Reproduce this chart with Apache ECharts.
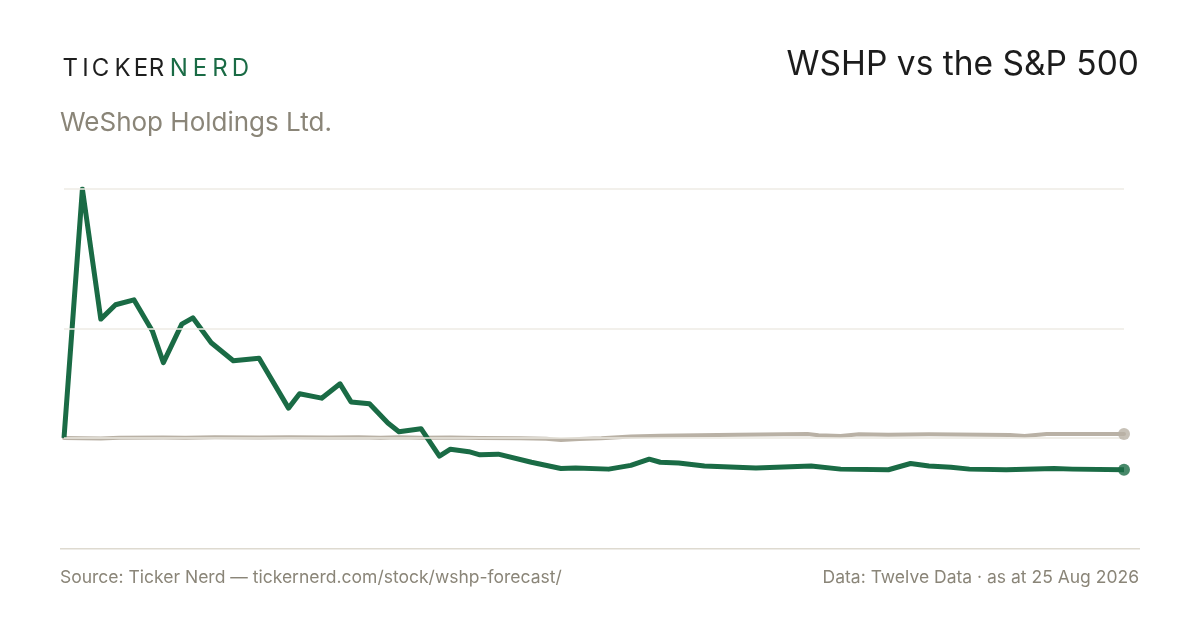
<!DOCTYPE html>
<html>
<head>
<meta charset="utf-8">
<script src="https://cdn.jsdelivr.net/npm/echarts@6/dist/echarts.min.js"></script>
<style>
  html, body { margin: 0; padding: 0; background: #fff; }
  #main { width: 1200px; height: 630px; }
</style>
</head>
<body>
<div id="main"></div>
<script>
// trading days since start, % return vs start
const wshpDays = [0, 5, 10, 14, 19, 24, 27, 32, 35, 40, 46, 53, 61, 64, 70, 75, 78, 83, 88, 91, 97,
  102, 105, 110, 113, 118, 127, 135, 139, 148, 154, 159, 162, 167, 174, 188, 203, 211, 224, 230,
  235, 241, 246, 256, 269, 274, 288]
const wshpReturn = [0, 400, 191, 214, 222, 172, 121, 183, 193, 153, 124, 128, 48, 71, 64, 87, 58, 55, 24, 10, 15,
  -29, -18, -22, -27, -26, -39, -49, -48, -50, -44, -34, -39, -40, -45, -48, -45, -50, -51, -41,
  -45, -47, -50, -51, -49, -50, -51]

const spxDays = [0, 10, 15, 27, 33, 41, 53, 61, 72, 80, 86, 91, 97, 105, 113, 124, 131, 135, 140, 146,
  154, 162, 167, 183, 202, 205, 211, 216, 224, 235, 257, 261, 267, 288]
const spxReturn = [0, -0.8, 0.5, 0.8, 0.3, 1.1, 0.8, 1.3, 1.0, 1.3, 0.6, 1.1, 0.3, 0.8, 0, -0.5, -1.3, -3.2, -1.6, -0.5,
  2.4, 3.5, 4.0, 5.3, 6.4, 4.3, 3.2, 6.1, 5.3, 5.9, 4.8, 3.2, 6.4, 6.4]

const gridValues = [175, 400]

const green = '#1a6b45'
const sand = '#b9b1a5'
const muted = '#8a8578'
const font = 'Inter, "Noto Sans", sans-serif'

const wshpData = wshpDays.map((d, i) => [d, wshpReturn[i]])
const spxData = spxDays.map((d, i) => [d, spxReturn[i]])

// wordmark is letter-spaced, so each letter is placed on its own centre
const logoLetters = ['T', 'I', 'C', 'K', 'E', 'R', 'N', 'E', 'R', 'D']
const logoCentres = [70.3, 85.5, 100.5, 122.5, 141, 156.5, 178.7, 200, 220, 240.5]

const chart = echarts.init(document.getElementById('main'), null, { renderer: 'canvas' })

const graphics = logoLetters.map((ch, i) => ({
  type: 'text', x: logoCentres[i], y: 57,
  style: { text: ch, font: `400 24px ${font}`, fill: i < 6 ? '#1e1e1e' : green, align: 'center' }
}))
graphics.push(
  { type: 'text', left: 60, top: 110,
    style: { text: 'WeShop Holdings Ltd.', font: `400 26px ${font}`, fill: muted } },
  { type: 'text', right: 61, top: 48,
    style: { text: 'WSHP vs the S&P 500', font: `400 33.5px ${font}`, fill: '#1c1c1c' } },
  { type: 'rect', left: 60, top: 548, shape: { width: 1080, height: 1.5 },
    style: { fill: '#dedad0' } },
  { type: 'text', left: 60, top: 569,
    style: { text: 'Source: Ticker Nerd — tickernerd.com/stock/wshp-forecast/', font: `400 17.5px ${font}`, fill: muted } },
  { type: 'text', right: 61, top: 569,
    style: { text: 'Data: Twelve Data · as at 25 Aug 2026', font: `400 17.5px ${font}`, fill: muted } }
)

chart.setOption({
  backgroundColor: '#ffffff',
  animation: false,
  grid: { left: 64, right: 76, top: 189, bottom: 129.75 },
  xAxis: { type: 'value', min: 0, max: 288, show: false },
  yAxis: { type: 'value', min: -100, max: 400, show: false, splitLine: { show: false } },
  graphic: graphics,
  series: [
    {
      type: 'line', data: [], z: 1, silent: true,
      markLine: {
        silent: true, symbol: 'none', label: { show: false },
        data: [
          ...gridValues.map(v => ({ yAxis: v, lineStyle: { color: '#eeebe5', width: 1.5, type: 'solid' } })),
          { yAxis: 0, lineStyle: { color: '#ebe8e0', width: 1.5, type: 'solid' } }
        ]
      }
    },
    {
      name: 'S&P 500', type: 'line', data: spxData, z: 3, symbol: 'none',
      lineStyle: { color: sand, width: 4, join: 'round', cap: 'round' }
    },
    {
      name: 'WSHP', type: 'line', data: wshpData, z: 4, symbol: 'none',
      lineStyle: { color: green, width: 5, join: 'round' }
    },
    {
      type: 'scatter', z: 5, symbolSize: 12,
      data: [
        { value: spxData[spxData.length - 1], itemStyle: { color: sand } },
        { value: wshpData[wshpData.length - 1], itemStyle: { color: green } }
      ]
    }
  ]
})
</script>
</body>
</html>
